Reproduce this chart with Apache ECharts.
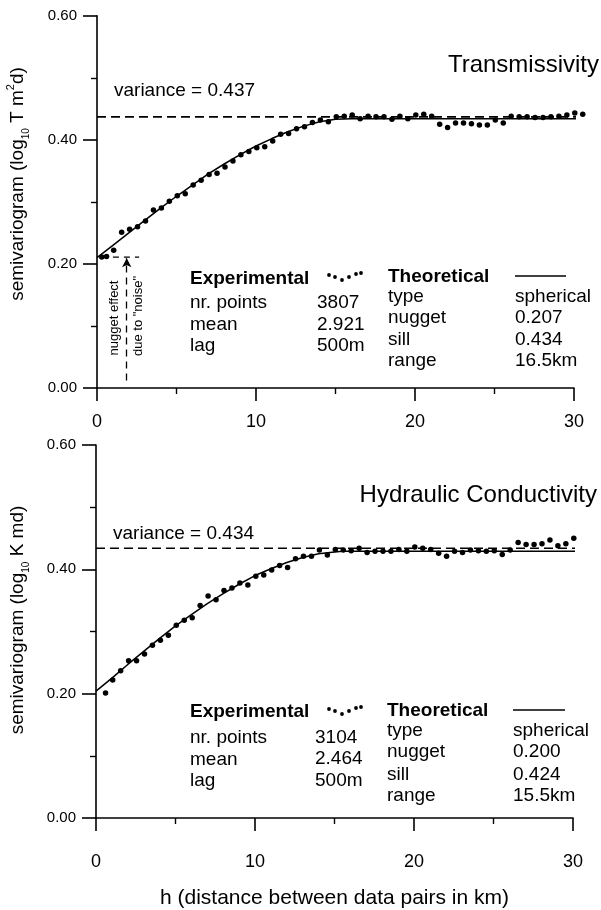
<!DOCTYPE html>
<html><head><meta charset="utf-8">
<script src="https://cdn.jsdelivr.net/npm/echarts@6/dist/echarts.min.js"></script>
<style>html,body{margin:0;padding:0;background:#fff}#c{width:601px;height:910px}</style>
</head><body><div id="c"></div>
<script>
const FONT = '"Liberation Sans", Arial, Helvetica, sans-serif';

// ---------- Transmissivity (top) ----------
const hT = [0.3,0.6,1.05,1.55,2.05,2.55,3.05,3.55,4.05,4.55,5.05,5.55,6.05,6.55,7.05,7.55,8.05,8.55,9.05,9.55,
  10.05,10.55,11.05,11.55,12.05,12.55,13.05,13.55,14.05,14.55,15.05,15.55,16.05,16.55,17.05,17.55,18.05,18.55,19.05,19.55,
  20.05,20.55,21.05,21.55,22.05,22.55,23.05,23.55,24.05,24.55,25.05,25.55,26.05,26.55,27.05,27.55,28.05,28.55,29.05,29.55,30.05,30.55];
const gT = [0.211,0.212,0.222,0.251,0.256,0.260,0.269,0.287,0.290,0.301,0.310,0.313,0.327,0.335,0.344,0.346,0.356,0.366,0.376,0.381,
  0.387,0.389,0.398,0.409,0.410,0.418,0.421,0.428,0.432,0.429,0.437,0.438,0.440,0.434,0.438,0.437,0.437,0.433,0.438,0.434,
  0.440,0.441,0.438,0.425,0.420,0.427,0.427,0.426,0.424,0.424,0.432,0.427,0.438,0.437,0.437,0.436,0.436,0.437,0.438,0.440,0.443,0.441];
const hTmodel = [0,1,2,3,4,5,6,7,8,9,10,11,12,13,14,15,16,16.5,30.8];
const gTmodel = [0.210,0.230,0.250,0.270,0.290,0.309,0.327,0.345,0.361,0.376,0.390,0.402,0.413,0.422,0.429,0.433,0.434,0.434,0.434];
const hTvar = [0, 31.6];
const gTvar = [0.437, 0.437];
// nugget annotation (top chart)
const hNugArrow = [1.87, 1.87];
const gNugArrow = [0.012, 0.209];
const hNugLevel = [1.0, 2.65];
const gNugLevel = [0.211, 0.211];

// ---------- Hydraulic Conductivity (bottom) ----------
const hK = [0.6,1.05,1.55,2.05,2.55,3.05,3.55,4.05,4.55,5.05,5.55,6.05,6.55,7.05,7.55,8.05,8.55,9.05,9.55,
  10.05,10.55,11.05,11.55,12.05,12.55,13.05,13.55,14.05,14.55,15.05,15.55,16.05,16.55,17.05,17.55,18.05,18.55,19.05,19.55,
  20.05,20.55,21.05,21.55,22.05,22.55,23.05,23.55,24.05,24.55,25.05,25.55,26.05,26.55,27.05,27.55,28.05,28.55,29.05,29.55,30.05];
const gK = [0.201,0.222,0.237,0.253,0.253,0.264,0.278,0.286,0.294,0.310,0.318,0.322,0.342,0.357,0.351,0.366,0.370,0.378,0.375,
  0.389,0.391,0.399,0.406,0.403,0.417,0.421,0.421,0.431,0.423,0.432,0.431,0.430,0.434,0.427,0.429,0.429,0.429,0.432,0.429,
  0.436,0.434,0.432,0.426,0.421,0.429,0.427,0.431,0.430,0.429,0.430,0.424,0.431,0.443,0.440,0.440,0.441,0.447,0.438,0.441,0.450];
const hKmodel = [0,1,2,3,4,5,6,7,8,9,10,11,12,13,14,15,15.5,30.8];
const gKmodel = [0.204,0.225,0.247,0.268,0.289,0.309,0.327,0.345,0.361,0.376,0.390,0.401,0.411,0.419,0.425,0.428,0.429,0.429];
const hKvar = [0, 31.6];
const gKvar = [0.434, 0.434];

// ---------- axes ----------
const xMin = 0, xMax = 30, xStep = 10;
const yMin = 0, yMax = 0.6, yStep = 0.2;

const zip = (a, b) => a.map((v, i) => [v, b[i]]);

function xAx(gi, margin, extra) {
  return Object.assign({
    gridIndex: gi, type: 'value', min: xMin, max: xMax, interval: xStep,
    axisLine: { show: true, onZero: false, lineStyle: { color: '#000', width: 1.6 } },
    axisTick: { show: true, length: 13, lineStyle: { color: '#000', width: 1.6 } },
    minorTick: { show: true, splitNumber: 2, length: 6, lineStyle: { color: '#000', width: 1.4 } },
    splitLine: { show: false }, minorSplitLine: { show: false },
    axisLabel: { color: '#000', fontSize: 18, fontFamily: FONT, margin: margin }
  }, extra || {});
}
function yAx(gi) {
  return {
    gridIndex: gi, type: 'value', min: yMin, max: yMax, interval: yStep,
    axisLine: { show: true, onZero: false, lineStyle: { color: '#000', width: 1.6 } },
    axisTick: { show: true, length: 14, lineStyle: { color: '#000', width: 1.6 } },
    minorTick: { show: true, splitNumber: 2, length: 6, lineStyle: { color: '#000', width: 1.4 } },
    splitLine: { show: false }, minorSplitLine: { show: false },
    axisLabel: { color: '#000', fontSize: 15, fontFamily: FONT, margin: 20, padding: [6, 0, 0, 0],
      formatter: v => v.toFixed(2) }
  };
}

const lineBase = { type: 'line', showSymbol: false, symbol: 'none', clip: false, silent: true, animation: false };

function txt(x, y, s, o) {
  o = o || {};
  return { type: 'text', x: x, y: y, rotation: o.rot || 0, silent: true,
    style: { text: s, fill: '#000', fontFamily: FONT, fontSize: o.size || 19, fontWeight: o.bold ? 'bold' : 'normal',
      textAlign: o.align || 'left', verticalAlign: 'middle', textVerticalAlign: 'middle', rich: o.rich } };
}
const yTitleRich = {
  a: { fontSize: 19, fontFamily: FONT, fill: '#000', lineHeight: 26, verticalAlign: 'middle' },
  s: { fontSize: 10, fontFamily: FONT, fill: '#000', lineHeight: 12, verticalAlign: 'bottom' },
  p: { fontSize: 11, fontFamily: FONT, fill: '#000', lineHeight: 14, verticalAlign: 'top' }
};
function dots(x0, y0) {
  const pts = [[0, -2], [6, 0], [13, 3], [20, 0], [27, -3], [32, -4]];
  return pts.map(p => ({ type: 'circle', silent: true, shape: { cx: x0 + p[0], cy: y0 + p[1], r: 1.9 }, style: { fill: '#000' } }));
}

const graphics = [
  // top chart texts
  txt(599, 65, 'Transmissivity', { size: 24, align: 'right' }),
  txt(114, 91, 'variance = 0.437'),
  txt(18, 184, '{a|semivariogram (log}{s|10}{a| T m}{p|2}{a|d)}', { rot: Math.PI / 2, align: 'center', rich: yTitleRich }),
  txt(114, 318, 'nugget effect', { size: 13, align: 'center', rot: Math.PI / 2 }),
  txt(138, 316, 'due to "noise"', { size: 13, align: 'center', rot: Math.PI / 2 }),
  txt(190, 279, 'Experimental', { bold: true }),
  txt(190, 303, 'nr. points'), txt(190, 325, 'mean'), txt(190, 346, 'lag'),
  txt(317, 303, '3807'), txt(317, 325, '2.921'), txt(317, 346, '500m'),
  txt(388, 277, 'Theoretical', { bold: true }),
  txt(388, 297, 'type'), txt(388, 318, 'nugget'), txt(388, 340, 'sill'), txt(388, 361, 'range'),
  txt(515, 297, 'spherical'), txt(515, 318, '0.207'), txt(515, 340, '0.434'), txt(515, 361, '16.5km'),
  { type: 'line', silent: true, shape: { x1: 515, y1: 276, x2: 566, y2: 276 }, style: { stroke: '#000', lineWidth: 1.6 } },
  ...dots(329, 277),
  // bottom chart texts
  txt(597, 495, 'Hydraulic Conductivity', { size: 24, align: 'right' }),
  txt(113, 534, 'variance = 0.434'),
  txt(18, 620, '{a|semivariogram (log}{s|10}{a| K md)}', { rot: Math.PI / 2, align: 'center', rich: yTitleRich }),
  txt(190, 712, 'Experimental', { bold: true }),
  txt(190, 738, 'nr. points'), txt(190, 760, 'mean'), txt(190, 781, 'lag'),
  txt(315, 738, '3104'), txt(315, 759, '2.464'), txt(315, 781, '500m'),
  txt(387, 711, 'Theoretical', { bold: true }),
  txt(387, 731, 'type'), txt(387, 752, 'nugget'), txt(387, 775, 'sill'), txt(387, 796, 'range'),
  txt(513, 731, 'spherical'), txt(513, 752, '0.200'), txt(513, 775, '0.424'), txt(513, 796, '15.5km'),
  { type: 'line', silent: true, shape: { x1: 513, y1: 710, x2: 565, y2: 710 }, style: { stroke: '#000', lineWidth: 1.6 } },
  ...dots(329, 711)
];

const option = {
  animation: false,
  backgroundColor: '#fff',
  grid: [
    { left: 97, top: 15.7, right: 27, height: 372.3, containLabel: false },
    { left: 96, top: 445, right: 28, height: 375, containLabel: false }
  ],
  xAxis: [
    xAx(0, 25),
    xAx(1, 35, { name: 'h (distance between data pairs in km)', nameLocation: 'middle', nameGap: 70,
      nameTextStyle: { color: '#000', fontSize: 21, fontFamily: FONT } })
  ],
  yAxis: [yAx(0), yAx(1)],
  series: [
    Object.assign({}, lineBase, { xAxisIndex: 0, yAxisIndex: 0, data: zip(hTvar, gTvar),
      lineStyle: { color: '#000', width: 1.6, type: [9, 5] } }),
    Object.assign({}, lineBase, { xAxisIndex: 0, yAxisIndex: 0, data: zip(hTmodel, gTmodel),
      lineStyle: { color: '#000', width: 1.5 } }),
    { type: 'scatter', xAxisIndex: 0, yAxisIndex: 0, data: zip(hT, gT), symbolSize: 5.5, clip: false, silent: true,
      itemStyle: { color: '#000', opacity: 1 } },
    Object.assign({}, lineBase, { xAxisIndex: 0, yAxisIndex: 0, data: zip(hNugLevel, gNugLevel),
      lineStyle: { color: '#000', width: 1.3, type: [6, 5] },
      markLine: { silent: true, animation: false, symbol: ['none', 'arrow'], symbolSize: [7, 9],
        label: { show: false }, lineStyle: { color: '#000', width: 1.3, type: [7, 5] },
        data: [[{ coord: [hNugArrow[0], gNugArrow[0]] }, { coord: [hNugArrow[1], gNugArrow[1]] }]] } }),

    Object.assign({}, lineBase, { xAxisIndex: 1, yAxisIndex: 1, data: zip(hKvar, gKvar),
      lineStyle: { color: '#000', width: 1.6, type: [9, 5] } }),
    Object.assign({}, lineBase, { xAxisIndex: 1, yAxisIndex: 1, data: zip(hKmodel, gKmodel),
      lineStyle: { color: '#000', width: 1.5 } }),
    { type: 'scatter', xAxisIndex: 1, yAxisIndex: 1, data: zip(hK, gK), symbolSize: 5.5, clip: false, silent: true,
      itemStyle: { color: '#000', opacity: 1 } }
  ],
  graphic: graphics
};

const chart = echarts.init(document.getElementById('c'), null, { renderer: 'canvas' });
chart.setOption(option);
</script>
</body></html>
